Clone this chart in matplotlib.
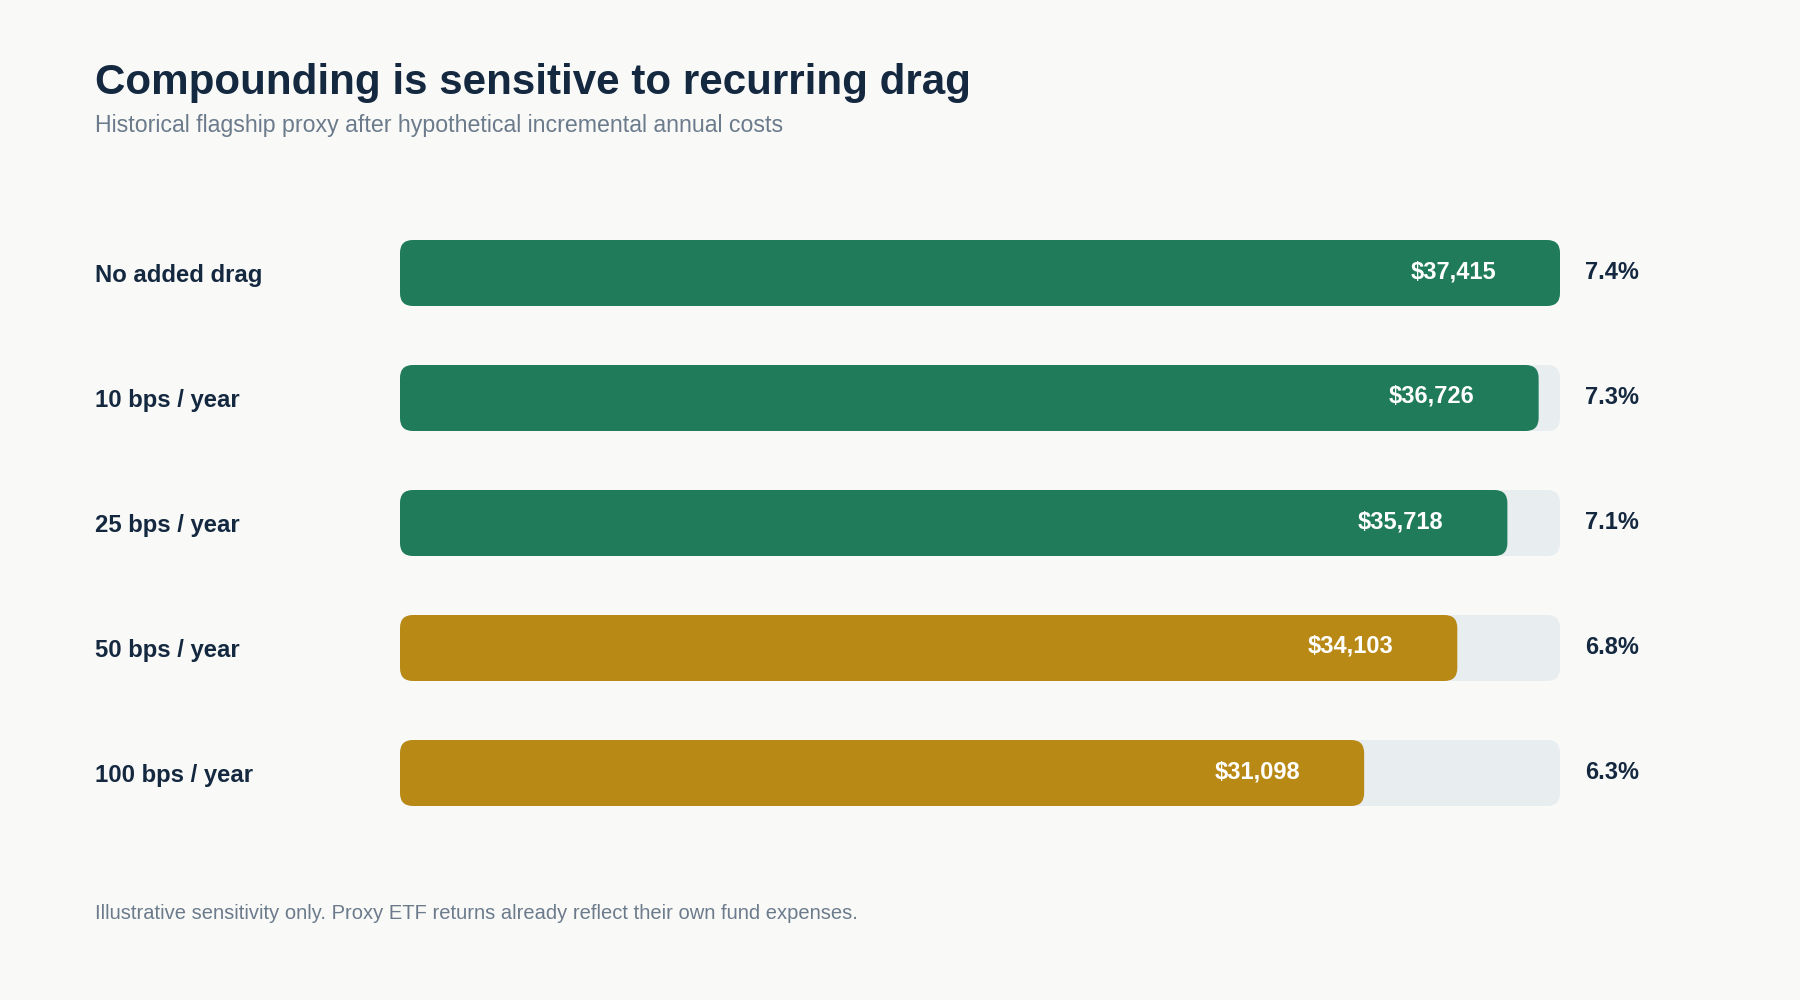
import matplotlib
matplotlib.use("Agg")
import matplotlib.pyplot as plt
from matplotlib.patches import FancyBboxPatch
from matplotlib.transforms import blended_transform_factory

categories = ["No added drag", "10 bps / year", "25 bps / year", "50 bps / year", "100 bps / year"]
values = [37415, 36726, 35718, 34103, 31098]
cagr = [7.4, 7.3, 7.1, 6.8, 6.3]
value_labels = ["$37,415", "$36,726", "$35,718", "$34,103", "$31,098"]
pct_labels = ["7.4%", "7.3%", "7.1%", "6.8%", "6.3%"]
bar_colors = ["#1f7b5a", "#1f7b5a", "#1f7b5a", "#b98916", "#b98916"]

title = "Compounding is sensitive to recurring drag"
subtitle = "Historical flagship proxy after hypothetical incremental annual costs"
footnote = "Illustrative sensitivity only. Proxy ETF returns already reflect their own fund expenses."

BG = "#f9f9f7"
TRACK = "#e8edf0"
DARK = "#142840"
MUTED = "#6b7b8c"

plt.rcParams['font.family'] = ['Liberation Sans', 'DejaVu Sans']

W, H, DPI = 1800, 1000, 100
fig = plt.figure(figsize=(W / DPI, H / DPI), dpi=DPI, facecolor=BG)

# axes spanning the track area
ax_left_px, ax_right_px = 400, 1560
ax_top_px, ax_bot_px = 210.5, 835.5
ax = fig.add_axes([ax_left_px / W, 1 - ax_bot_px / H,
                   (ax_right_px - ax_left_px) / W, (ax_bot_px - ax_top_px) / H])
ax.set_facecolor("none")
vmax = max(values)
n = len(categories)
ax.set_xlim(0, vmax)
ax.set_ylim(n - 0.5, -0.5)
ax.axis("off")

x_per_px = vmax / (ax_right_px - ax_left_px)
y_per_px = n / (ax_bot_px - ax_top_px)
radius_px = 13
bar_h = 66 * y_per_px

def rbar(x0, y0, w, h, color):
    p = FancyBboxPatch((x0, y0), w, h,
                       boxstyle=f"round,pad=0,rounding_size={radius_px * x_per_px}",
                       mutation_aspect=y_per_px / x_per_px,
                       facecolor=color, edgecolor="none", clip_on=False)
    ax.add_patch(p)

trans_lab = blended_transform_factory(fig.transFigure, ax.transData)

for i, (cat, v, col, vl, pl) in enumerate(zip(categories, values, bar_colors, value_labels, pct_labels)):
    rbar(0, i - bar_h / 2, vmax, bar_h, TRACK)
    rbar(0, i - bar_h / 2, v, bar_h, col)
    ax.annotate(vl, xy=(v, i), xytext=(-46, -3.6), textcoords="offset points",
                ha="right", va="baseline", color="white", fontsize=17, fontweight="bold")
    ax.annotate(pl, xy=(vmax, i), xytext=(18, -4.6), textcoords="offset points",
                ha="left", va="baseline", color=DARK, fontsize=17, fontweight="bold",
                annotation_clip=False)
    ax.annotate(cat, xy=(95 / W, i), xycoords=trans_lab, xytext=(0, -6.2),
                textcoords="offset points", ha="left", va="baseline",
                color=DARK, fontsize=17.2, fontweight="bold", annotation_clip=False)

fig.text(95 / W, 1 - 94 / H, title, ha="left", va="baseline",
         fontsize=30.3, fontweight="bold", color=DARK)
fig.text(95 / W, 1 - 132 / H, subtitle, ha="left", va="baseline",
         fontsize=16.7, color=MUTED)
fig.text(95 / W, 1 - 919 / H, footnote, ha="left", va="baseline",
         fontsize=14.5, color=MUTED)

fig.savefig("out.png", dpi=DPI, facecolor=BG)
